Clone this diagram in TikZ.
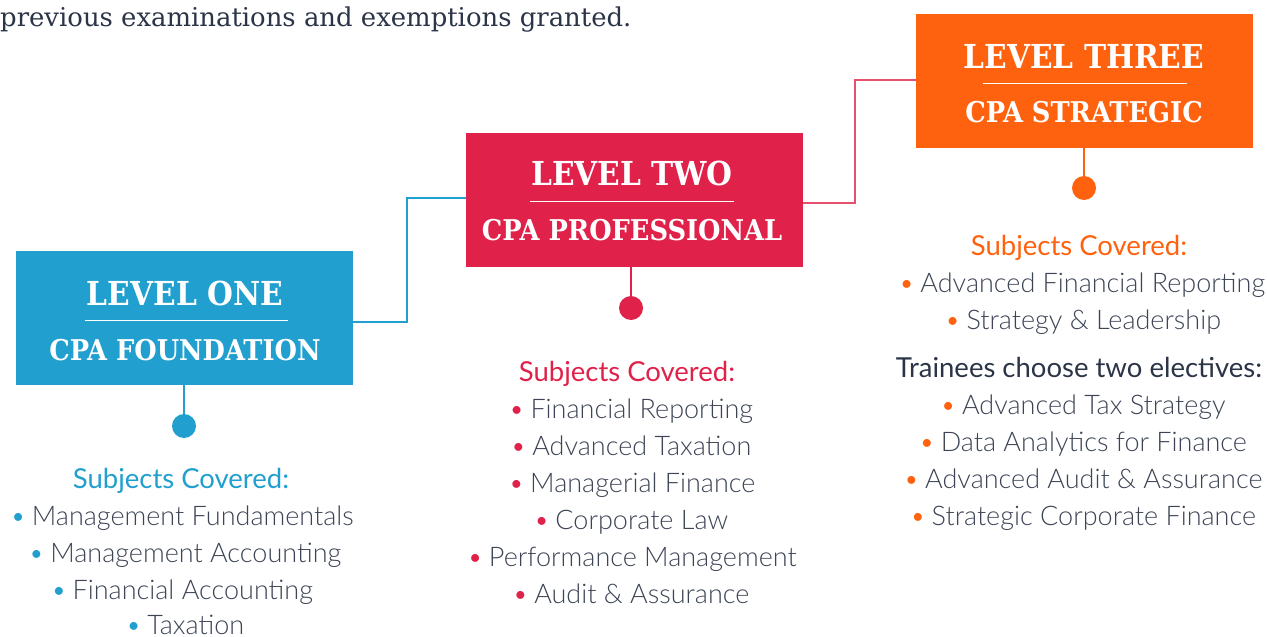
\documentclass[tikz,border=0pt]{standalone}
\usepackage{fontspec}
\setmainfont{Lato}
\newfontfamily\lightfont{Lato Light}
\newfontfamily\slab{DejaVu Serif Condensed}
\newfontfamily\slabwide{DejaVu Serif}
\definecolor{cblue}{HTML}{219FCF}
\definecolor{cred}{HTML}{E0214A}
\definecolor{corange}{HTML}{FF620E}
\definecolor{cline}{HTML}{E4506E}
\definecolor{ctext}{HTML}{2B3547}
\definecolor{citem}{HTML}{3C4455}
\tikzset{
  levelbox/.style={fill=#1, minimum width=337pt, minimum height=134pt, inner sep=0pt},
  titletxt/.style={text=white, font=\slab\bfseries\fontsize{33}{33}\selectfont, inner sep=0pt, anchor=base},
  subtxt/.style={text=white, font=\slab\bfseries\fontsize{28.6}{28.6}\selectfont, inner sep=0pt, anchor=base},
  rulewhite/.style={draw=white, line width=1pt},
  dotnode/.style={circle, fill=#1, minimum size=24pt, inner sep=0pt},
  stem/.style={draw=#1, line width=1.3pt},
  head/.style={font=\fontsize{27.5}{27.5}\selectfont, text=#1, inner sep=0pt, anchor=base},
  item/.style={font=\lightfont\fontsize{27}{27}\selectfont, text=citem, inner sep=0pt, anchor=base},
}
\newcommand{\bul}[1]{{\color{#1}\textbullet}\hspace{0.22em}}
\begin{document}
\begin{tikzpicture}[x=1pt,y=-1pt]
\useasboundingbox (0,0) rectangle (1267,637);
% top text
\node[anchor=base west, inner sep=0pt, text=ctext, font=\slabwide\fontsize{25.9}{25.9}\selectfont] (top) at (0,26) {previous examinations and exemptions granted.};
% boxes
\node[levelbox=cblue] (b1) at (184.5,318) {};
\node[levelbox=cred] (b2) at (634.5,200) {};
\node[levelbox=corange] (b3) at (1084.5,81) {};
% titles
\node[titletxt] (t1) at (185,305) {LEVEL ONE};
\node[subtxt] (s1) at (185,360) {CPA FOUNDATION};
\coordinate (u1a) at (85,320); \coordinate (u1b) at (288,320);
\draw[rulewhite] (u1a) -- (u1b);
\node[titletxt] (t2) at (632,185) {LEVEL TWO};
\node[subtxt] (s2) at (632,240) {CPA PROFESSIONAL};
\coordinate (u2a) at (530,201); \coordinate (u2b) at (734,201);
\draw[rulewhite] (u2a) -- (u2b);
\node[titletxt] (t3) at (1084,68) {LEVEL THREE};
\node[subtxt] (s3) at (1084,122) {CPA STRATEGIC};
\coordinate (u3a) at (983,83); \coordinate (u3b) at (1187,83);
\draw[rulewhite] (u3a) -- (u3b);
% connectors between boxes
\coordinate (j1) at (407,260);
\coordinate (j2) at (855,140);
\draw[cblue, line width=1.3pt] ([yshift=-4pt]b1.east) -| (j1) |- ([yshift=2pt]b2.west);
\draw[cline, line width=1.3pt] ([yshift=-3pt]b2.east) -| (j2) |- ([yshift=1pt]b3.west);
% dots and stems
\node[dotnode=cblue] (d1) at (184,426) {};
\node[dotnode=cred] (d2) at (631,308) {};
\node[dotnode=corange] (d3) at (1084,188) {};
\draw[stem=cblue] (d1.center) -- (d1.center |- b1.south);
\draw[stem=cred] (d2.center) -- (d2.center |- b2.south);
\draw[stem=corange] (d3.center) -- (d3.center |- b3.south);
% level one list
\node[head=cblue] (h1) at (181,488) {Subjects Covered:};
\node[item] (a1) at (182,525) {\bul{cblue}Management Fundamentals};
\node[item] (a2) at (185,562) {\bul{cblue}Management Accounting};
\node[item] (a3) at (182,599) {\bul{cblue}Financial Accounting};
\node[item] (a4) at (185,634) {\bul{cblue}Taxation};
% level two list
\node[head=cred] (h2) at (627,381) {Subjects Covered:};
\node[item] (c1) at (631,418) {\bul{cred}Financial Reporting};
\node[item] (c2) at (631,455) {\bul{cred}Advanced Taxation};
\node[item] (c3) at (632,492) {\bul{cred}Managerial Finance};
\node[item] (c4) at (631,529) {\bul{cred}Corporate Law};
\node[item] (c5) at (632,566) {\bul{cred}Performance Management};
\node[item] (c6) at (631,603) {\bul{cred}Audit \& Assurance};
% level three list
\node[head=corange] (h3) at (1079,255) {Subjects Covered:};
\node[item] (e1) at (1082,292) {\bul{corange}Advanced Financial Reporting};
\node[item] (e2) at (1083,329) {\bul{corange}Strategy \& Leadership};
\node[head=ctext] (h4) at (1079,377) {Trainees choose two electives:};
\node[item] (e3) at (1083,414) {\bul{corange}Advanced Tax Strategy};
\node[item] (e4) at (1083,451) {\bul{corange}Data Analytics for Finance};
\node[item] (e5) at (1083,488) {\bul{corange}Advanced Audit \& Assurance};
\node[item] (e6) at (1083,525) {\bul{corange}Strategic Corporate Finance};
\end{tikzpicture}
\end{document}
